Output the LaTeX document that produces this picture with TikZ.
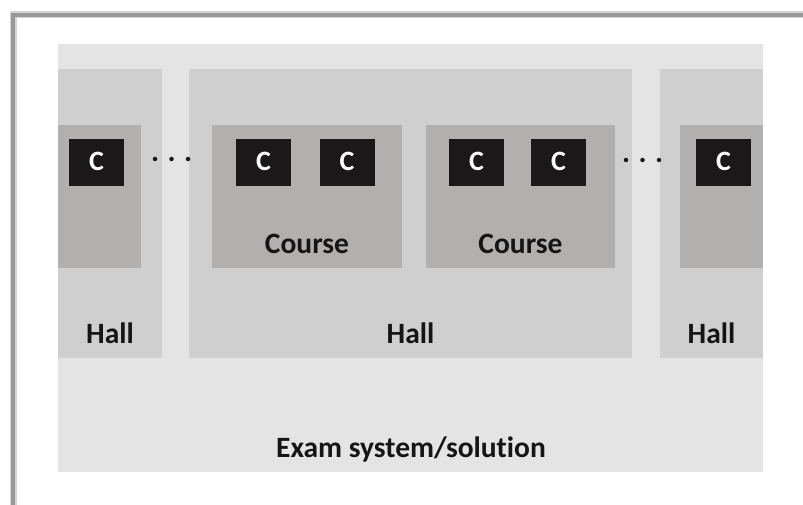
\documentclass[tikz,border=0pt]{standalone}
\usepackage{fontspec}
\setmainfont{Carlito}[Ligatures=NoCommon]
\definecolor{outerbg}{HTML}{E5E4E5}
\definecolor{hallbg}{HTML}{D0CFD0}
\definecolor{coursebg}{HTML}{B2AFAF}
\definecolor{cbox}{HTML}{1A1818}
\definecolor{txt}{HTML}{151515}
\definecolor{frameline}{HTML}{989898}
\definecolor{frameshadow}{HTML}{D4D4D4}
\tikzset{
  region/.style={rectangle, inner sep=0pt, outer sep=0pt, anchor=north west, draw=none},
  outerbox/.style={region, fill=outerbg},
  hallbox/.style={region, fill=hallbg},
  coursebox/.style={region, fill=coursebg},
  cnode/.style={rectangle, fill=cbox, inner sep=0pt, minimum width=55pt, minimum height=47pt, anchor=center},
  lbl/.style={inner sep=0pt, anchor=base, text=txt, font=\fontsize{29.5}{35}\selectfont\bfseries},
  clbl/.style={inner sep=0pt, anchor=base, text=white, font=\fontsize{28}{32}\selectfont\bfseries},
  dotmark/.style={circle, fill=txt, inner sep=0pt, minimum size=4.5pt},
}
\begin{document}
\begin{tikzpicture}[x=1pt, y=-1pt]
\useasboundingbox[fill=white] (0,0) rectangle (803,505);
% frame
\draw[frameshadow, line width=7pt] (13,505) -- (13,15) -- (803,15);
\draw[frameline, line width=3.5pt] (13,505) -- (13,15) -- (803,15);
% outer system
\node[outerbox, minimum width=705pt, minimum height=428pt] (sys) at (58,44) {};
\node[lbl] (syslbl) at (411,457) {Exam system/solution};
% halls
\node[hallbox, minimum width=104pt, minimum height=289pt] (hallL) at (58,69) {};
\node[hallbox, minimum width=443pt, minimum height=289pt] (hallM) at (189,69) {};
\node[hallbox, minimum width=103pt, minimum height=289pt] (hallR) at (660,69) {};
\node[lbl] (hallLlbl) at (110,343) {Hall};
\node[lbl] (hallMlbl) at (410.5,343) {Hall};
\node[lbl] (hallRlbl) at (711.5,343) {Hall};
% courses
\node[coursebox, minimum width=83pt, minimum height=143pt] (courseL) at (58,125) {};
\node[coursebox, minimum width=190pt, minimum height=143pt] (course1) at (212,125) {};
\node[coursebox, minimum width=189pt, minimum height=143pt] (course2) at (426,125) {};
\node[coursebox, minimum width=83pt, minimum height=143pt] (courseR) at (680,125) {};
\node[lbl] (course1lbl) at (307,253) {Course};
\node[lbl] (course2lbl) at (520.5,253) {Course};
% C boxes
\node[cnode] (cL) at (96.5,162.5) {};
\node[cnode] (c1a) at (263.5,162.5) {};
\node[cnode] (c1b) at (347,162.5) {};
\node[cnode] (c2a) at (476.5,162.5) {};
\node[cnode] (c2b) at (558.5,162.5) {};
\node[cnode] (cR) at (723.5,162.5) {};
\foreach \n/\x in {cLt/96.5, c1at/263.5, c1bt/347, c2at/476.5, c2bt/558.5, cRt/723.5}
  \node[clbl] (\n) at (\x,171) {C};
% dots
\foreach \n/\x in {dl1/155, dl2/171.5, dl3/188}
  \node[dotmark] (\n) at (\x,159) {};
\foreach \n/\x in {dr1/626, dr2/642.5, dr3/659}
  \node[dotmark] (\n) at (\x,160) {};
\end{tikzpicture}
\end{document}
